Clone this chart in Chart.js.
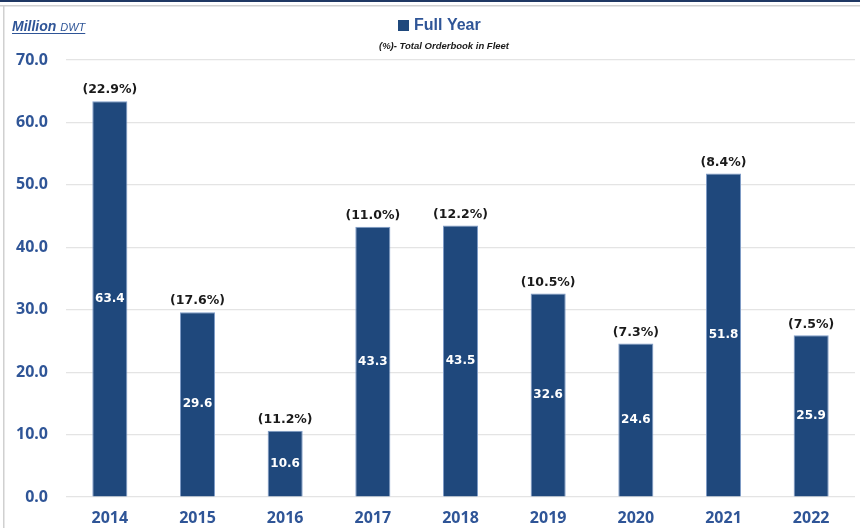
<!DOCTYPE html>
<html><head><meta charset="utf-8">
<script src="https://cdn.jsdelivr.net/npm/chart.js@4/dist/chart.umd.min.js"></script>
<style>html,body{margin:0;padding:0;background:#fff}#wrap{width:860px;height:528px}</style>
</head><body><div id="wrap"><canvas id="c" width="860" height="528"></canvas></div>
<script>
const years = ['2014','2015','2016','2017','2018','2019','2020','2021','2022'];
const fullYear = [63.4, 29.6, 10.6, 43.3, 43.5, 32.6, 24.6, 51.8, 25.9];
const orderbookPct = ['(22.9%)','(17.6%)','(11.2%)','(11.0%)','(12.2%)','(10.5%)','(7.3%)','(8.4%)','(7.5%)'];
const yTicks = [0,10,20,30,40,50,60,70];

const BLUE = '#1f487c';
const TXT = '#2f5597';

const deco = {
  id:'deco',
  beforeDraw(chart){
    const ctx = chart.ctx;
    ctx.save();
    ctx.fillStyle = '#fff'; ctx.fillRect(0,0,860,528);
    ctx.fillStyle = '#1f3864'; ctx.fillRect(0,0,860,2);
    ctx.fillStyle = '#d0d0d0'; ctx.fillRect(0,5,860,1.5); ctx.fillRect(3,5,1.5,523);
    // Million DWT
    ctx.fillStyle = TXT; ctx.textBaseline = 'alphabetic'; ctx.textAlign='left';
    ctx.font = 'italic bold 14px "Liberation Sans"';
    ctx.fillText('Million', 12, 31);
    const w1 = ctx.measureText('Million ').width;
    ctx.font = 'italic 11px "Liberation Sans"';
    ctx.fillText('DWT', 12 + w1, 31);
    const w2 = ctx.measureText('DWT').width;
    ctx.fillRect(12, 33, w1 + w2, 1);
    // legend
    ctx.fillStyle = BLUE; ctx.fillRect(398, 20, 11, 11);
    ctx.fillStyle = TXT; ctx.font = 'bold 16px "Liberation Sans"';
    ctx.textBaseline='middle';
    ctx.fillText(chart.data.datasets[0].label, 414, 26);
    ctx.fillStyle = '#1a1a1a'; ctx.font = 'italic bold 9.5px "Liberation Sans"';
    ctx.textAlign='center';
    ctx.fillText('(%)- Total Orderbook in Fleet', 444, 46);
    ctx.restore();
  },
  afterDatasetsDraw(chart){
    const ctx = chart.ctx;
    const meta = chart.getDatasetMeta(0);
    ctx.save();
    ctx.textAlign='center'; ctx.textBaseline='middle';
    meta.data.forEach((bar,i)=>{
      ctx.font = 'bold 12px "DejaVu Sans"';
      ctx.fillStyle = '#fff';
      ctx.fillText(fullYear[i].toFixed(1), bar.x, (bar.y + bar.base)/2);
      ctx.font = 'bold 12.5px "DejaVu Sans"';
      ctx.fillStyle = '#1a1a1a';
      ctx.fillText(orderbookPct[i], bar.x, bar.y - 11);
    });
    ctx.restore();
  }
};

new Chart(document.getElementById('c'), {
  type:'bar',
  data:{ labels: years, datasets:[{ label:'Full Year', data: fullYear, backgroundColor: BLUE, borderColor:'#7f9cc8', borderWidth:1, categoryPercentage:1, barPercentage:0.4 }]},
  options:{
    responsive:false, animation:false, devicePixelRatio:1,
    layout:{ padding:{ top:60, right:5, left:0, bottom:0 } },
    plugins:{ legend:{display:false}, tooltip:{enabled:false} },
    scales:{
      x:{ grid:{display:false, drawTicks:false}, border:{display:false},
          ticks:{ color:TXT, font:{family:'Noto Sans', weight:'bold', size:16}, padding:12 },
          afterFit(s){ s.height = 31; } },
      y:{ min:0, max:70, afterBuildTicks(s){ s.ticks = yTicks.map(v=>({value:v})); },
          grid:{ color:'#e4e4e4', drawTicks:false, lineWidth:1.2 }, border:{display:false},
          ticks:{ color:TXT, font:{family:'Noto Sans', weight:'bold', size:16}, padding:18, callback:v=>Number(v).toFixed(1) },
          afterFit(s){ s.width = 66; } }
    }
  },
  plugins:[deco]
});
</script></body></html>
